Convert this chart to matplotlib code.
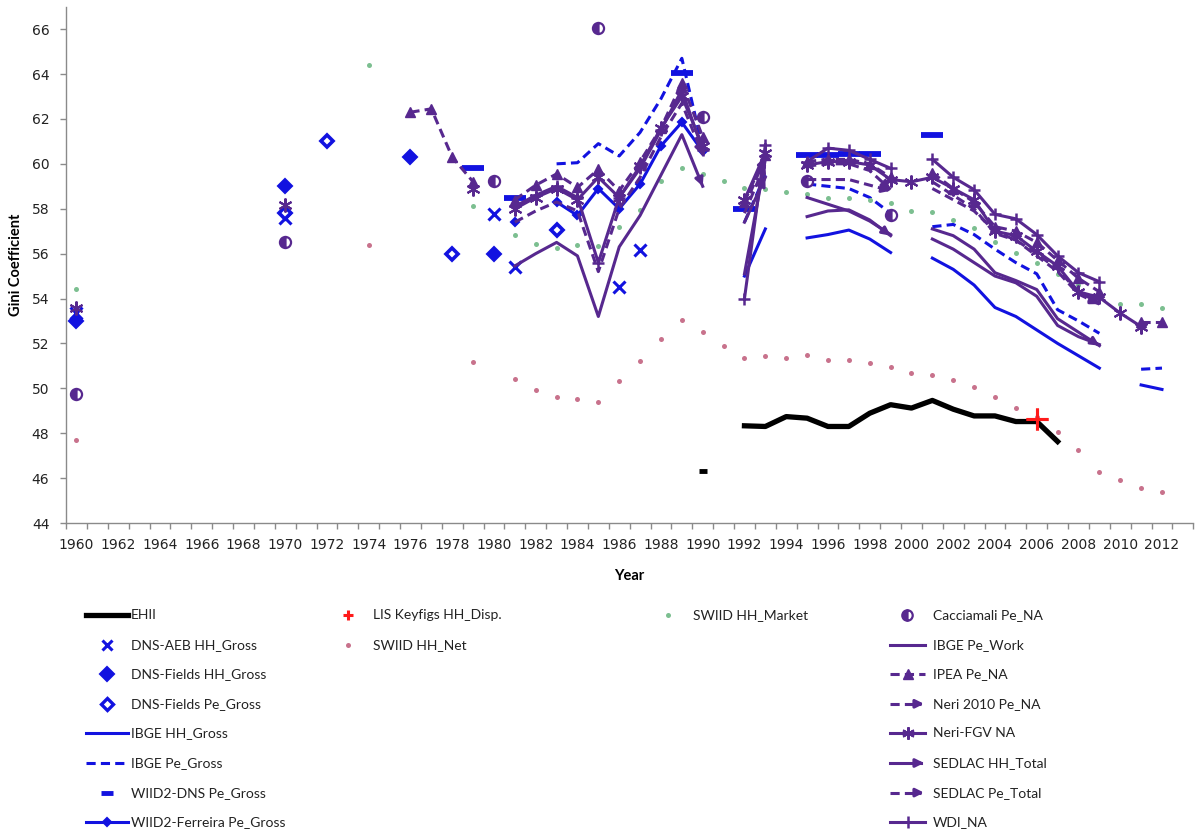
import matplotlib
matplotlib.use('Agg')
import matplotlib.pyplot as plt
from matplotlib.lines import Line2D
from matplotlib.patches import FancyArrowPatch

# ---------------- data ----------------
EHII_YEARS = [1990, 1992, 1993, 1994, 1995, 1996, 1997, 1998, 1999, 2000, 2001, 2002, 2003, 2004, 2005, 2006, 2007]
EHII_VALUES = [46.3, 48.33, 48.30, 48.74, 48.67, 48.30, 48.30, 48.89, 49.27, 49.12, 49.46, 49.07, 48.77, 48.77, 48.52, 48.52, 47.63]

DNS_AEB_YEARS = [1960, 1970, 1980, 1981, 1986, 1987]
DNS_AEB_VALUES = [53.35, 57.6, 57.75, 55.4, 54.5, 56.15]

DNS_FIELDS_HH_YEARS = [1960, 1970, 1976, 1980]
DNS_FIELDS_HH_VALUES = [53.0, 59.0, 60.3, 56.0]

DNS_FIELDS_PE_YEARS = [1970, 1972, 1978, 1983]
DNS_FIELDS_PE_VALUES = [57.8, 61.0, 56.0, 57.05]

IBGE_HH_GROSS_YEARS = [1992, 1993, 1995, 1996, 1997, 1998, 1999, 2001, 2002, 2003, 2004, 2005, 2006, 2007, 2008, 2009, 2011, 2012]
IBGE_HH_GROSS_VALUES = [55.0, 57.1, 56.7, 56.85, 57.05, 56.65, 56.05, 55.8, 55.3, 54.6, 53.6, 53.2, 52.6, 52.0, 51.45, 50.9, 50.15, 49.95]

IBGE_PE_GROSS_YEARS = [1983, 1984, 1985, 1986, 1987, 1988, 1989, 1990, 1992, 1993, 1995, 1996, 1997, 1998, 1999,
                       2001, 2002, 2003, 2004, 2005, 2006, 2007, 2008, 2009, 2011, 2012]
IBGE_PE_GROSS_VALUES = [60.0, 60.05, 60.9, 60.35, 61.4, 62.9, 64.7, 60.7, 57.4, 59.5, 59.1, 59.0, 58.9, 58.5, 57.8,
                        57.2, 57.3, 56.85, 56.2, 55.6, 55.1, 53.5, 53.0, 52.45, 50.85, 50.9]

WIID2_DNS_YEARS = [1979, 1981, 1989, 1992, 1995, 1996, 1997, 1998, 2001]
WIID2_DNS_VALUES = [59.8, 58.5, 64.05, 58.0, 60.4, 60.4, 60.45, 60.45, 61.3]

WIID2_FERREIRA_YEARS = [1981, 1983, 1984, 1985, 1986, 1987, 1988, 1989, 1990]
WIID2_FERREIRA_VALUES = [57.4, 58.3, 57.7, 58.9, 58.0, 59.1, 60.8, 61.85, 60.55]

LIS_YEARS = [2006]
LIS_VALUES = [48.65]

SWIID_NET_YEARS = [1960, 1974, 1979] + list(range(1981, 2013))
SWIID_NET_VALUES = [47.68, 56.39, 51.15, 50.43, 49.93, 49.61, 49.52, 49.41, 50.31, 51.2, 52.2, 53.06, 52.49,
                    51.9, 51.35, 51.42, 51.35, 51.5, 51.24, 51.24, 51.13, 50.97, 50.68, 50.6, 50.38, 50.06,
                    49.61, 49.12, 48.7, 48.07, 47.26, 46.29, 45.92, 45.55, 45.4]

SWIID_MARKET_YEARS = [1960, 1974, 1979] + list(range(1981, 2013))
SWIID_MARKET_VALUES = [54.44, 64.42, 58.11, 56.81, 56.45, 56.26, 56.4, 56.35, 57.2, 57.94, 59.23, 59.83, 59.53,
                       59.23, 58.93, 58.89, 58.74, 58.64, 58.49, 58.49, 58.4, 58.27, 57.89, 57.85, 57.5, 57.15,
                       56.5, 56.05, 55.6, 55.1, 54.6, 54.1, 53.77, 53.77, 53.58]

CACCIAMALI_YEARS = [1960, 1970, 1980, 1985, 1990, 1995, 1999]
CACCIAMALI_VALUES = [49.74, 56.52, 59.22, 66.05, 62.1, 59.23, 57.7]

IBGE_PE_WORK_YEARS = [1992, 1993, 1995, 1996, 1997, 1998, 1999, 2001, 2002, 2003, 2004, 2005, 2006, 2007, 2008, 2009]
IBGE_PE_WORK_VALUES = [55.1, 60.2, 58.5, 58.2, 57.9, 57.45, 56.85, 56.65, 56.2, 55.6, 55.0, 54.7, 54.1, 52.8, 52.3, 51.95]

IPEA_YEARS = [1976, 1977, 1978, 1979, 1981, 1982, 1983, 1984, 1985, 1986, 1987, 1988, 1989, 1990, 1992, 1993,
              1995, 1996, 1997, 1998, 1999, 2001, 2002, 2003, 2004, 2005, 2006, 2007, 2008, 2009, 2011, 2012]
IPEA_VALUES = [62.3, 62.45, 60.3, 59.2, 58.4, 59.05, 59.55, 58.95, 59.75, 58.8, 60.1, 61.6, 63.6, 61.2, 58.3, 60.4,
               60.1, 60.2, 60.2, 60.0, 59.4, 59.6, 58.9, 58.3, 57.2, 57.0, 56.5, 55.7, 54.9, 54.3, 52.95, 52.95]

NERI_2010_YEARS = [1992, 1993, 1995, 1996, 1997, 1998, 1999, 2001, 2002, 2003, 2004, 2005, 2006, 2007, 2008, 2009]
NERI_2010_VALUES = [58.1, 60.3, 59.3, 59.3, 59.3, 59.05, 58.8, 58.9, 58.4, 57.9, 57.0, 56.6, 56.0, 55.3, 54.3, 53.8]

NERI_FGV_YEARS = [1960, 1970, 1979, 1981, 1982, 1983, 1984, 1985, 1986, 1987, 1988, 1989, 1990, 1992, 1993] + list(range(1995, 2012))
NERI_FGV_VALUES = [53.6, 58.15, 58.9, 58.0, 58.5, 58.9, 58.4, 59.4, 58.5, 59.9, 61.6, 63.0, 60.8, 58.4, 60.5,
                   59.95, 60.1, 60.1, 59.95, 59.3, 59.2, 59.4, 58.9, 58.4, 57.0, 56.8, 56.1, 55.45, 54.3, 54.05, 53.35, 52.75]

SEDLAC_HH_YEARS = [1981, 1982, 1983, 1984, 1985, 1986, 1987, 1988, 1989, 1990, 1992, 1993, 1995, 1996, 1997, 1998, 1999,
                   2001, 2002, 2003, 2004, 2005, 2006, 2007, 2008, 2009]
SEDLAC_HH_VALUES = [55.45, 56.0, 56.5, 55.9, 53.2, 56.3, 57.7, 59.5, 61.3, 59.0, 57.4, 59.4, 57.65, 57.9, 57.95, 57.5, 56.8,
                    57.1, 56.8, 56.2, 55.15, 54.8, 54.4, 53.1, 52.5, 51.9]

SEDLAC_PE_YEARS = SEDLAC_HH_YEARS
SEDLAC_PE_VALUES = [57.4, 57.9, 58.3, 57.9, 55.2, 58.0, 59.4, 61.2, 62.7, 60.4, 57.8, 60.0, 59.9, 60.0, 60.0, 59.7, 58.85,
                    59.2, 58.6, 58.0, 56.9, 56.6, 55.9, 55.2, 54.2, 53.75]

WDI_YEARS = SEDLAC_HH_YEARS
WDI_VALUES = [58.1, 58.6, 59.0, 58.5, 55.6, 58.5, 59.8, 61.5, 63.3, 60.6, 54.0, 60.85, 60.1, 60.7, 60.6, 60.2, 59.8,
              60.2, 59.4, 58.85, 57.75, 57.55, 56.85, 55.9, 55.15, 54.75]

YEAR_TICK_LABELS = list(range(1960, 2013, 2))
GINI_TICKS = list(range(44, 67, 2))

# ---------------- style ----------------
BLUE = '#1212e0'
PURPLE = '#57288f'
GREEN = '#7cbf90'
PINK = '#c8728c'
BLACK = '#000000'
RED = '#ff1a1a'
LW = 2.2
DASH = (3.0, 1.7)
ASTER = (6, 2, 0)

plt.rcParams['font.family'] = ['DejaVu Sans']
fig = plt.figure(figsize=(11.97, 8.4), dpi=100)
W, H = 1197.0, 840.0
ax = fig.add_axes([66 / W, 1 - 523 / H, (1193.3 - 66) / W, (523 - 6.7) / H])


def segments(years, values):
    segs, cur = [], []
    for y, v in zip(years, values):
        if cur and y - cur[-1][0] > 1:
            segs.append(cur)
            cur = []
        cur.append((y, v))
    if cur:
        segs.append(cur)
    return segs


def arrow_head(x0, y0, x1, y1, color, z):
    ax.annotate('', xy=(x1, y1), xytext=(x1 - 0.2 * (x1 - x0), y1 - 0.2 * (y1 - y0)),
                arrowprops=dict(arrowstyle='-|>', color=color, lw=LW, mutation_scale=12,
                                shrinkA=0, shrinkB=0), zorder=z)


zc = [10]


def series(years, values, color, line=True, dashed=False, lw=LW, marker=None, ms=6, mew=1.5,
           mfc=None, mec=None, arrow=False, **kw):
    zc[0] += 1
    z = zc[0]
    mfc = color if mfc is None else mfc
    mec = color if mec is None else mec
    for seg in segments(years, values):
        xs = [p[0] for p in seg]
        ys = [p[1] for p in seg]
        if line and len(seg) >= 2:
            l, = ax.plot(xs, ys, color=color, lw=lw, ls='--' if dashed else '-', marker=marker, ms=ms,
                         mew=mew, mfc=mfc, mec=mec, zorder=z, solid_joinstyle='round', **kw)
            if dashed:
                l.set_dashes(DASH)
            if arrow:
                arrow_head(xs[-2], ys[-2], xs[-1], ys[-1], color, z)
        elif marker is not None:
            ax.plot(xs, ys, ls='none', marker=marker, ms=ms, mew=mew, mfc=mfc, mec=mec, color=color,
                    zorder=z, **kw)


# series, drawn in legend order
series(EHII_YEARS, EHII_VALUES, BLACK, lw=3.8)
ax.plot([EHII_YEARS[0]], [EHII_VALUES[0]], marker='_', ms=6, mew=3.5, color=BLACK, zorder=11)
series(DNS_AEB_YEARS, DNS_AEB_VALUES, BLUE, line=False, marker='x', ms=9, mew=2.2)
series(DNS_FIELDS_HH_YEARS, DNS_FIELDS_HH_VALUES, BLUE, line=False, marker='D', ms=7.5)
series(DNS_FIELDS_PE_YEARS, DNS_FIELDS_PE_VALUES, BLUE, line=False, marker='D', ms=6.5, mfc='white', mew=2.6)
series(IBGE_HH_GROSS_YEARS, IBGE_HH_GROSS_VALUES, BLUE)
series(IBGE_PE_GROSS_YEARS, IBGE_PE_GROSS_VALUES, BLUE, dashed=True)
series(WIID2_DNS_YEARS, WIID2_DNS_VALUES, BLUE, line=False, marker='_', ms=16, mew=4.2)
series(WIID2_FERREIRA_YEARS, WIID2_FERREIRA_VALUES, BLUE, marker='D', ms=4.5)
series(LIS_YEARS, LIS_VALUES, RED, line=False, marker='+', ms=16, mew=2.2)
series(SWIID_NET_YEARS, SWIID_NET_VALUES, PINK, line=False, marker='o', ms=3.6, mew=0)
series(SWIID_MARKET_YEARS, SWIID_MARKET_VALUES, GREEN, line=False, marker='o', ms=3.6, mew=0)
series(CACCIAMALI_YEARS, CACCIAMALI_VALUES, PURPLE, line=False, marker='o', ms=8, mew=1.6,
       fillstyle='left', markerfacecoloralt='white')
series(IBGE_PE_WORK_YEARS, IBGE_PE_WORK_VALUES, PURPLE)
series(IPEA_YEARS, IPEA_VALUES, PURPLE, dashed=True, marker='^', ms=6.5, mew=1)
series(NERI_2010_YEARS, NERI_2010_VALUES, PURPLE, dashed=True, arrow=True)
series(NERI_FGV_YEARS, NERI_FGV_VALUES, PURPLE, marker=ASTER, ms=10, mew=1.5)
series(SEDLAC_HH_YEARS, SEDLAC_HH_VALUES, PURPLE, arrow=True)
series(SEDLAC_PE_YEARS, SEDLAC_PE_VALUES, PURPLE, dashed=True, arrow=True)
series(WDI_YEARS, WDI_VALUES, PURPLE, marker='+', ms=9, mew=1.8)
ax.plot(LIS_YEARS, LIS_VALUES, ls='none', marker='+', ms=16, mew=2.2, color=RED, zorder=60)

# ---------------- axes ----------------
ax.set_xlim(1959.5, 2013.5)
ax.set_ylim(44, 67)
for s in ['top', 'right']:
    ax.spines[s].set_visible(False)
for s in ['left', 'bottom']:
    ax.spines[s].set_color('#8a8a8a')
    ax.spines[s].set_linewidth(1.0)
ax.set_xticks([y - 0.5 for y in range(1960, 2014)] + [2013.5])
ax.set_xticklabels([])
ax.set_xticks(YEAR_TICK_LABELS, minor=True)
ax.set_xticklabels([str(y) for y in YEAR_TICK_LABELS], minor=True, fontsize=10, color='#222222')
ax.tick_params(axis='x', which='major', length=4, width=1, color='#8a8a8a', direction='out')
ax.tick_params(axis='x', which='minor', length=0, pad=11)
ax.set_yticks(GINI_TICKS)
ax.set_yticklabels([str(v) for v in GINI_TICKS], fontsize=10, color='#222222')
ax.tick_params(axis='y', length=4, width=1, color='#8a8a8a', direction='out', pad=8)
ax.set_xlabel('Year', fontsize=10.5, fontweight='bold', family='Lato', labelpad=12)
ax.set_ylabel('Gini Coefficient', fontsize=10.5, fontweight='bold', family='Lato', labelpad=6)
ax.patch.set_alpha(0)

# ---------------- legend (drawn by hand, Excel layout) ----------------
ROW_Y = [615 + 29.6 * i for i in range(8)]


def fx(px):
    return px / W


def fy(py):
    return 1 - py / H


def leg_text(x, y, s):
    fig.text(fx(x), fy(y), s, fontsize=10, family='Lato', va='center', ha='left', color='#222222')


def leg_line(x0, x1, y, color, dashed=False, lw=LW, marker=None, ms=6, mew=1.5, mfc=None, arrow=False):
    l = Line2D([fx(x0), fx(x1)], [fy(y), fy(y)], transform=fig.transFigure, color=color, lw=lw,
               ls='--' if dashed else '-')
    if dashed:
        l.set_dashes(DASH)
    fig.add_artist(l)
    if marker is not None:
        m = Line2D([fx((x0 + x1) / 2)], [fy(y)], transform=fig.transFigure, ls='none', marker=marker,
                   ms=ms, mew=mew, color=color, mfc=color if mfc is None else mfc)
        fig.add_artist(m)
    if arrow:
        a = FancyArrowPatch((fx(x1 - 6), fy(y)), (fx(x1 + 3), fy(y)), transform=fig.transFigure,
                            arrowstyle='-|>', mutation_scale=12, color=color, lw=LW, shrinkA=0, shrinkB=0)
        fig.add_artist(a)


def leg_marker(x, y, color, marker, ms, mew=1.5, mfc=None, **kw):
    m = Line2D([fx(x)], [fy(y)], transform=fig.transFigure, ls='none', marker=marker, ms=ms, mew=mew,
               color=color, mfc=color if mfc is None else mfc, mec=color, **kw)
    fig.add_artist(m)


# column 1
c1a, c1b, c1t = 86, 128, 131
leg_line(c1a, c1b, ROW_Y[0], BLACK, lw=3.8); leg_text(c1t, ROW_Y[0], 'EHII')
leg_marker(107, ROW_Y[1], BLUE, 'x', 7, mew=2.2); leg_text(c1t, ROW_Y[1], 'DNS-AEB HH_Gross')
leg_marker(107, ROW_Y[2], BLUE, 'D', 7); leg_text(c1t, ROW_Y[2], 'DNS-Fields HH_Gross')
leg_marker(107, ROW_Y[3], BLUE, 'D', 6, mew=2.4, mfc='white'); leg_text(c1t, ROW_Y[3], 'DNS-Fields Pe_Gross')
leg_line(c1a, c1b, ROW_Y[4], BLUE); leg_text(c1t, ROW_Y[4], 'IBGE HH_Gross')
leg_line(c1a, c1b, ROW_Y[5], BLUE, dashed=True); leg_text(c1t, ROW_Y[5], 'IBGE Pe_Gross')
leg_marker(107, ROW_Y[6], BLUE, '_', 8, mew=3.5); leg_text(c1t, ROW_Y[6], 'WIID2-DNS Pe_Gross')
leg_line(c1a, c1b, ROW_Y[7], BLUE, marker='D', ms=4.5); leg_text(c1t, ROW_Y[7], 'WIID2-Ferreira Pe_Gross')

# column 2
leg_marker(348, ROW_Y[0], RED, '+', 7, mew=2.2); leg_text(373, ROW_Y[0], 'LIS Keyfigs HH_Disp.')
leg_marker(348, ROW_Y[1], PINK, 'o', 3.6, mew=0); leg_text(373, ROW_Y[1], 'SWIID HH_Net')

# column 3
leg_marker(668, ROW_Y[0], GREEN, 'o', 3.6, mew=0); leg_text(693, ROW_Y[0], 'SWIID HH_Market')

# column 4
c4a, c4b, c4t = 890, 925, 933
leg_marker(907, ROW_Y[0], PURPLE, 'o', 7.5, mew=1.6, fillstyle='left', markerfacecoloralt='white')
leg_text(c4t, ROW_Y[0], 'Cacciamali Pe_NA')
leg_line(c4a, c4b, ROW_Y[1], PURPLE); leg_text(c4t, ROW_Y[1], 'IBGE Pe_Work')
leg_line(c4a, c4b, ROW_Y[2], PURPLE, dashed=True, marker='^', ms=6.5, mew=1); leg_text(c4t, ROW_Y[2], 'IPEA Pe_NA')
leg_line(c4a, c4b - 4, ROW_Y[3], PURPLE, dashed=True, arrow=True); leg_text(c4t, ROW_Y[3], 'Neri 2010 Pe_NA')
leg_line(c4a, c4b, ROW_Y[4], PURPLE, marker=ASTER, ms=9, mew=1.5); leg_text(c4t, ROW_Y[4], 'Neri-FGV NA')
leg_line(c4a, c4b - 4, ROW_Y[5], PURPLE, arrow=True); leg_text(c4t, ROW_Y[5], 'SEDLAC HH_Total')
leg_line(c4a, c4b - 4, ROW_Y[6], PURPLE, dashed=True, arrow=True); leg_text(c4t, ROW_Y[6], 'SEDLAC Pe_Total')
leg_line(c4a, c4b, ROW_Y[7], PURPLE, marker='+', ms=9, mew=1.8); leg_text(c4t, ROW_Y[7], 'WDI_NA')

fig.savefig('out.png', dpi=100)
